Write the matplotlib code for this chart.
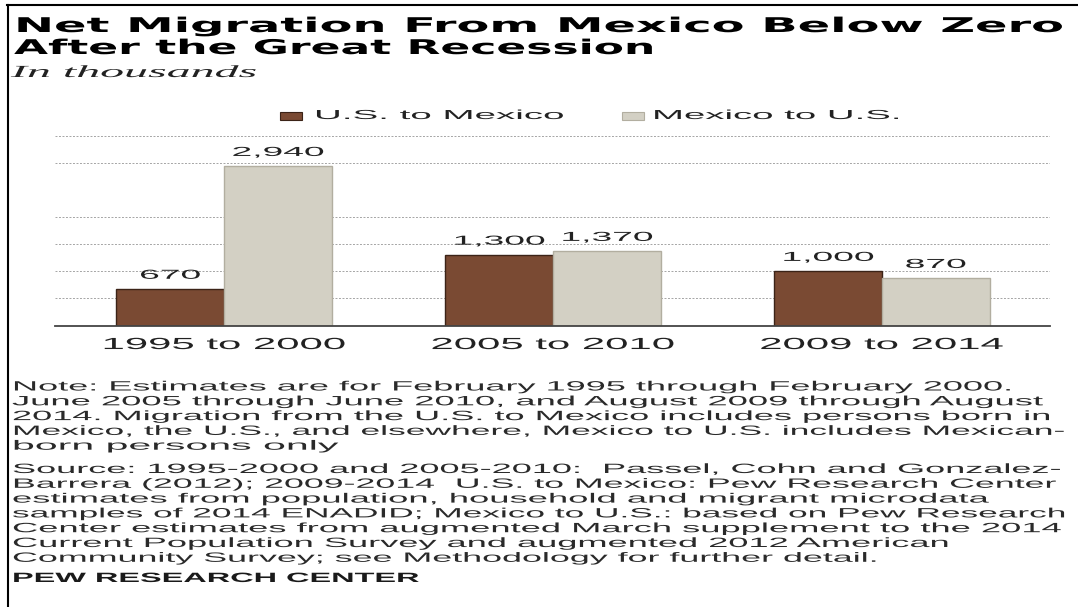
import numpy as np
import matplotlib
matplotlib.use("Agg")
import matplotlib.pyplot as plt
from matplotlib.patheffects import AbstractPathEffect
from matplotlib.transforms import Affine2D
from matplotlib.lines import Line2D
from matplotlib.patches import Rectangle

# ---------------- data ----------------
periods = ["1995 to 2000", "2005 to 2010", "2009 to 2014"]
us_to_mexico = [670, 1300, 1000]
mexico_to_us = [2940, 1370, 870]
series_names = ["U.S. to Mexico", "Mexico to U.S."]
grid_values = [500, 1000, 1500, 2000, 3000, 3500]

title_lines = ["Net Migration From Mexico Below Zero", "After the Great Recession"]
subtitle = "In thousands"
note_lines = [
    "Note: Estimates are for February 1995 through February 2000.",
    "June 2005 through June 2010, and August 2009 through August",
    "2014. Migration from the U.S. to Mexico includes persons born in",
    "Mexico, the U.S., and elsewhere, Mexico to U.S. includes Mexican-",
    "born persons only",
]
source_lines = [
    "Source: 1995-2000 and 2005-2010:  Passel, Cohn and Gonzalez-",
    "Barrera (2012); 2009-2014  U.S. to Mexico: Pew Research Center",
    "estimates from population, household and migrant microdata",
    "samples of 2014 ENADID; Mexico to U.S.: based on Pew Research",
    "Center estimates from augmented March supplement to the 2014",
    "Current Population Survey and augmented 2012 American",
    "Community Survey; see Methodology for further detail.",
]
credit = "PEW RESEARCH CENTER"

# ---------------- style ----------------
W, H = 1078, 607
BROWN, BROWN_EDGE = "#7a4a33", "#3b2317"
GRAY, GRAY_EDGE = "#d3d0c4", "#b2aea0"
TEXT = "#222222"
plt.rcParams["font.family"] = ["Liberation Sans", "DejaVu Sans"]


class HStretch(AbstractPathEffect):
    """Draws the text glyphs stretched horizontally (the reference is a wide-set face)."""

    def __init__(self, ha="left", target=None, factor=None):
        super().__init__()
        self.ha, self.target, self.factor, self.text = ha, target, factor, None

    def draw_path(self, renderer, gc, tpath, affine, rgbFace=None):
        bb = self.text.get_window_extent(renderer)
        sx = self.factor if self.factor else self.target / max(bb.width, 1e-6)
        if self.ha == "left":
            x0 = bb.x0
        elif self.ha == "right":
            x0 = bb.x1
        else:
            x0 = 0.5 * (bb.x0 + bb.x1)
        tr = affine + Affine2D().translate(-x0, 0).scale(sx, 1).translate(x0, 0)
        renderer.draw_path(gc, tpath, tr, rgbFace)


def stretch(t, ha="left", target=None, factor=None):
    eff = HStretch(ha, target, factor)
    t.set_path_effects([eff])
    eff.text = t
    return t


fig = plt.figure(figsize=(W / 100, H / 100), dpi=100)


def stext(x_px, y_px, s, target=None, factor=None, ha="left", **kw):
    t = fig.text(x_px / W, 1 - y_px / H, s, ha=ha, va="center", **kw)
    return stretch(t, ha, target, factor)


# ---------------- axes ----------------
ax_left, ax_right, ax_bottom, ax_top = 55, 1050, 325.5, 133.4
ax = fig.add_axes([ax_left / W, 1 - ax_bottom / H, (ax_right - ax_left) / W,
                   (ax_bottom - ax_top) / H])
ax.set_facecolor("none")

x = np.arange(len(periods))
bw = 0.328
b1 = ax.bar(x - bw / 2, us_to_mexico, bw, color=BROWN, edgecolor=BROWN_EDGE,
            linewidth=1.0, zorder=2, label=series_names[0])
b2 = ax.bar(x + bw / 2, mexico_to_us, bw, color=GRAY, edgecolor=GRAY_EDGE,
            linewidth=1.0, zorder=2, label=series_names[1])

for gv in grid_values:
    ax.axhline(gv, color="#a5a5a5", lw=0.7, ls=(0, (2.0, 1.6)), zorder=0)

for bars, vals in ((b1, us_to_mexico), (b2, mexico_to_us)):
    for rect, v in zip(bars, vals):
        t = ax.annotate(f"{v:,}", (rect.get_x() + rect.get_width() / 2, v),
                        xytext=(0, 9.7), textcoords="offset points",
                        ha="center", va="center", fontsize=9.4, color=TEXT)
        stretch(t, "center", factor=2.85)

ax.set_xlim(-0.514, 2.511)
ax.set_ylim(0, 3550)
ax.set_yticks([])
ax.set_xticks(x, periods)
ax.tick_params(axis="x", length=0, pad=8.3, labelsize=11.6, labelcolor=TEXT)
for lab in ax.get_xticklabels():
    stretch(lab, "center", factor=2.6)
for s in ("top", "right", "left"):
    ax.spines[s].set_visible(False)
ax.spines["bottom"].set_color("#444444")
ax.spines["bottom"].set_linewidth(1.3)

# ---------------- titles ----------------
tkw = dict(family=["DejaVu Sans"], weight="bold", fontsize=14.6, color="black")
stext(14, 26.5, title_lines[0], target=1049, **tkw)
stext(14, 48.5, title_lines[1], target=641, **tkw)

stext(11, 73, subtitle, target=247, family=["Liberation Serif", "DejaVu Serif"],
      style="italic", fontsize=12.2, color=TEXT)

# ---------------- legend ----------------
fig.add_artist(Rectangle((280 / W, 1 - 119.5 / H), 22 / W, 8 / H, transform=fig.transFigure,
                         facecolor=BROWN, edgecolor=BROWN_EDGE, lw=0.8))
stext(314, 116, series_names[0], target=249, fontsize=9.4, color=TEXT)
fig.add_artist(Rectangle((622 / W, 1 - 119.5 / H), 22 / W, 8 / H, transform=fig.transFigure,
                         facecolor=GRAY, edgecolor=GRAY_EDGE, lw=0.8))
stext(652, 116, series_names[1], target=248, fontsize=9.4, color=TEXT)

# ---------------- notes ----------------
note_ends = [1017, 1048, 1056, 1068, 340]
source_ends = [1065, 1060, 994, 1070, 1065, 953, 883]
y = 387.5
for line, end in zip(note_lines, note_ends):
    stext(12, y, line, target=end - 12, fontsize=9.7, color="#2a2a2a")
    y += 14.8
y = 470
for line, end in zip(source_lines, source_ends):
    stext(12, y, line, target=end - 12, fontsize=9.7, color="#2a2a2a")
    y += 14.8
stext(12, 579, credit, target=408, fontsize=9.7, weight="bold", color="#1a1a1a")

# ---------------- frame ----------------
fig.add_artist(Line2D([7.5 / W, 7.5 / W], [0, 1 - 4.5 / H], transform=fig.transFigure,
                      color="black", lw=1.5))
fig.add_artist(Line2D([7 / W, 1], [1 - 4.5 / H, 1 - 4.5 / H], transform=fig.transFigure,
                      color="black", lw=1.5))

fig.savefig("out.png", dpi=100)
